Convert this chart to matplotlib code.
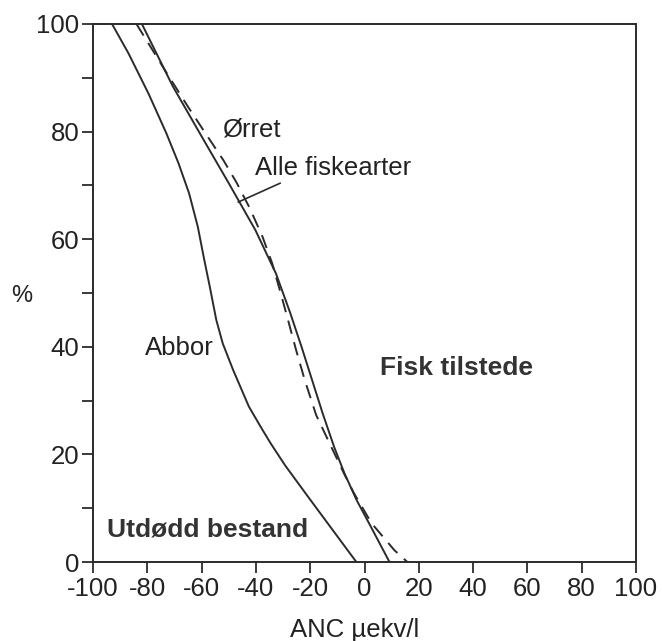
import numpy as np
import matplotlib
matplotlib.use('Agg')
import matplotlib.pyplot as plt

plt.rcParams['font.family'] = ['Liberation Sans', 'DejaVu Sans']
plt.rcParams['axes.unicode_minus'] = False

# curves: percent (y) and ANC in µekv/l (x)
abbor_pct = [100, 94.6, 87.1, 79.7, 74.1, 68.5, 62.3, 56.1, 51.2, 45, 40.6,
             35.7, 28.9, 25, 22, 18, 12, 6, 0]
abbor_anc = [-93, -87, -79.6, -73, -68.5, -64.6, -61.4, -59, -57, -54.6,
             -52.2, -48.4, -42.6, -38.1, -34.5, -29.3, -20.6, -11.8, -3]

alle_pct = [100, 88.4, 79.1, 70.4, 61.7, 53.6, 46.2, 40, 33.8, 27.6, 21.4,
            16.5, 11.5, 6.6, 0]
alle_anc = [-82, -70.6, -60, -50, -40.2, -32.6, -27.3, -23.2, -19.3, -15.4,
            -11.2, -7.4, -2.9, 2.3, 9.2]

orret_pct = [100, 91, 84.6, 80, 74.7, 70.4, 65.8, 60.5, 55.5, 50, 45.6, 39.4,
             33.8, 27.3, 22, 16.5, 12.8, 7.2, 2.2, 0]
orret_anc = [-84, -73, -65, -59, -52, -47, -42.3, -37.6, -34, -30.9, -28.5,
             -25.2, -22, -17.8, -12.8, -7.6, -3.9, 2.6, 11, 15.8]

xticks = [-100, -80, -60, -40, -20, 0, 20, 40, 60, 80, 100]
yticks = [0, 20, 40, 60, 80, 100]
yminor = [10, 30, 50, 70, 90]

col = '#2b2b2b'
tcol = '#222222'

fig = plt.figure(figsize=(6.63, 6.41), dpi=100)
ax = fig.add_axes([0.1403, 0.1232, 0.819, 0.8394])

ax.plot(abbor_anc, abbor_pct, color=col, lw=1.4)
ax.plot(alle_anc, alle_pct, color=col, lw=1.4)
ax.plot(orret_anc, orret_pct, color=col, lw=1.4, dashes=(7, 4.5))

ax.set_xlim(-100, 100)
ax.set_ylim(0, 100)
ax.set_xticks(xticks)
ax.set_yticks(yticks)
ax.set_yticks(yminor, minor=True)
ax.tick_params(axis='both', which='both', direction='out', length=8, width=1.3,
               color=col, labelsize=18.5, labelcolor=tcol, pad=2)
ax.tick_params(axis='x', pad=3)
for s in ax.spines.values():
    s.set_color(col)
    s.set_linewidth(1.4)

ax.set_xlabel('ANC µekv/l', fontsize=18.5, color=tcol)
ax.xaxis.set_label_coords(0.4825, -0.126)
ax.xaxis.label.set_va('center')
ax.set_ylabel('%', fontsize=17, color=tcol, rotation=0)
ax.yaxis.set_label_coords(-0.131, 0.494)
ax.yaxis.label.set_va('center')

# labels
ax.text(-52.5, 80.3, 'Ørret', fontsize=18.5, va='center', ha='left', color=tcol)
ax.text(-40.3, 73.2, 'Alle fiskearter', fontsize=18.5, va='center', ha='left', color=tcol)
ax.plot([-31.1, -46.5], [70.4, 66.9], color=col, lw=1.2)
ax.text(-80.8, 39.8, 'Abbor', fontsize=18.5, va='center', ha='left', color=tcol)
ax.text(-94.8, 6.0, 'Utdødd bestand', fontsize=19, va='center', ha='left',
        fontweight='bold', color='#333333')
ax.text(5.7, 36.1, 'Fisk tilstede', fontsize=19, va='center', ha='left',
        fontweight='bold', color='#333333')

fig.savefig('out.png', dpi=100)
